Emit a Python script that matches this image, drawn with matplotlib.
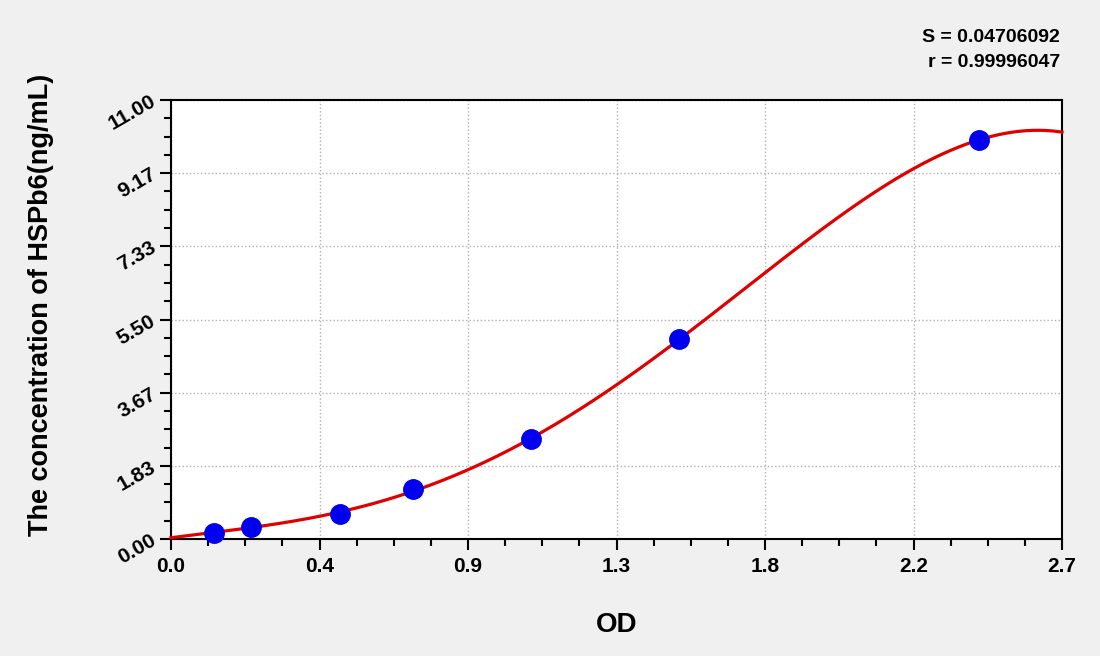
import numpy as np
import matplotlib
matplotlib.use("Agg")
import matplotlib.pyplot as plt
from matplotlib.ticker import FixedLocator, AutoMinorLocator, FixedFormatter

od = [0.130, 0.242, 0.512, 0.733, 1.091, 1.539, 2.448]
conc = [0.156, 0.3125, 0.625, 1.25, 2.5, 5.0, 10.0]
x_ticks = [0.0, 0.45, 0.9, 1.35, 1.8, 2.25, 2.7]
x_tick_labels = ["0.0", "0.4", "0.9", "1.3", "1.8", "2.2", "2.7"]
y_ticks = [0.0, 11/6, 22/6, 5.5, 44/6, 55/6, 11.0]
y_tick_labels = ["0.00", "1.83", "3.67", "5.50", "7.33", "9.17", "11.00"]
stats_text = "S = 0.04706092\nr = 0.99996047"

plt.rcParams['font.family'] = ['Liberation Sans', 'DejaVu Sans']
plt.rcParams['font.weight'] = 'bold'

fig = plt.figure(figsize=(11, 6.56), dpi=100, facecolor='#f0f0f0')
ax = fig.add_axes([171/1100, 1-539/656, (1062-171)/1100, (539-100)/656])
ax.set_facecolor('white')

coef = np.polyfit(od, conc, 4)
xs = np.linspace(0, 2.7, 400)
ax.plot(xs, np.polyval(coef, xs), color='#e00000', lw=2.3, zorder=3, clip_on=False)
ax.plot(od, conc, 'o', color='#0000ee', markersize=14, zorder=4, clip_on=False)

ax.set_xlim(0, 2.7)
ax.set_ylim(0, 11)
ax.xaxis.set_major_locator(FixedLocator(x_ticks))
ax.xaxis.set_major_formatter(FixedFormatter(x_tick_labels))
ax.yaxis.set_major_locator(FixedLocator(y_ticks))
ax.yaxis.set_major_formatter(FixedFormatter(y_tick_labels))
ax.xaxis.set_minor_locator(AutoMinorLocator(4))
ax.yaxis.set_minor_locator(AutoMinorLocator(4))
ax.tick_params(which='major', direction='out', length=8, width=1.5, colors='black')
ax.tick_params(which='minor', direction='out', length=5, width=1.5, colors='black')
ax.tick_params(axis='x', labelsize=15, pad=5)
ax.tick_params(axis='y', labelsize=15, pad=4)
for lab in ax.get_yticklabels():
    lab.set_rotation(30)
    lab.set_rotation_mode('anchor')
    lab.set_ha('right')
    lab.set_va('center')
    lab.set_fontweight('bold')
for lab in ax.get_xticklabels():
    lab.set_fontweight('bold')
for s in ax.spines.values():
    s.set_linewidth(1.5)
    s.set_color('black')
ax.grid(True, which='major', linestyle=':', color='#b0b0b0', linewidth=1)

ax.set_xlabel('OD', fontsize=20, fontweight='bold', labelpad=26)
ax.set_ylabel('The concentration of HSPb6(ng/mL)', fontsize=19.5, fontweight='bold')
ax.yaxis.set_label_coords(-0.131, 0.533)

fig.text(1060/1100, 1-50/656, stats_text, ha='right', va='center', fontsize=14,
         fontweight='bold', linespacing=1.65)

fig.savefig('out.png', dpi=100, facecolor=fig.get_facecolor())
